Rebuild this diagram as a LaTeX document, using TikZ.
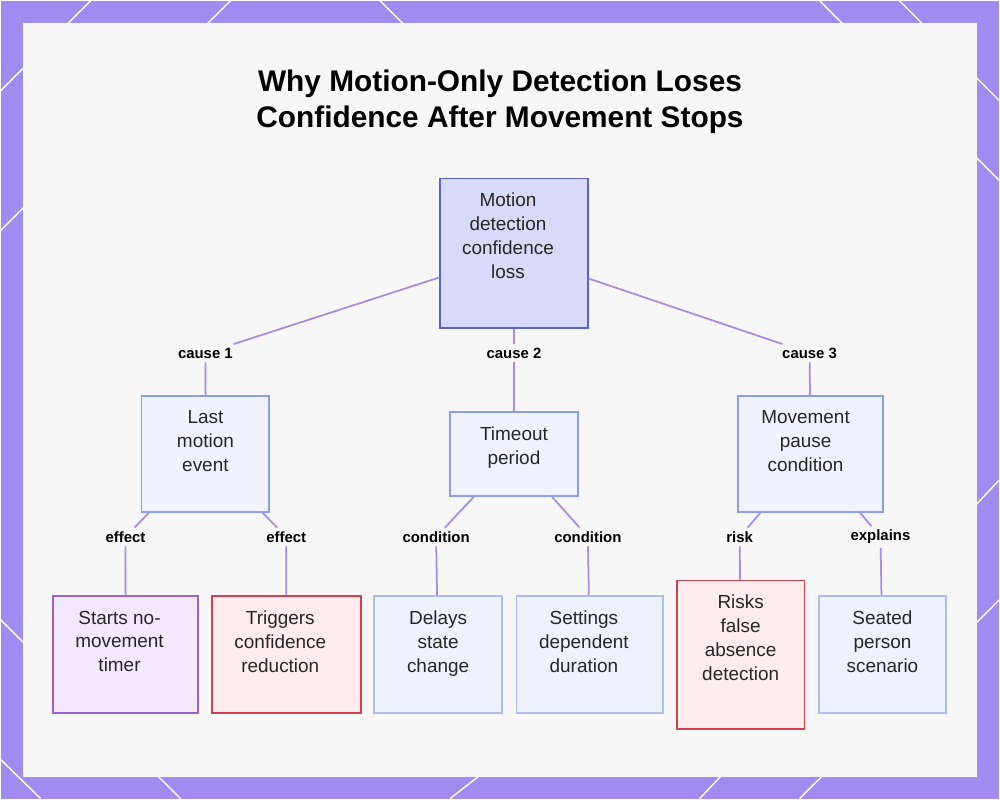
\documentclass[tikz,border=0pt]{standalone}
\usepackage{fontspec}
\setmainfont{Liberation Sans}
\begin{document}
\begin{tikzpicture}[x=0.02cm,y=-0.02cm,
  box/.style={draw, line width=1pt, inner sep=0pt},
  txt/.style={align=center, font=\fontsize{10.8}{13.6}\selectfont, text=black!85, inner sep=0pt, anchor=north},
  blue/.style={box, fill={rgb,255:red,240;green,243;blue,255}, draw={rgb,255:red,140;green,158;blue,232}},
  pale/.style={box, fill={rgb,255:red,238;green,242;blue,255}, draw={rgb,255:red,176;green,190;blue,238}},
  root/.style={box, fill={rgb,255:red,216;green,218;blue,250}, draw={rgb,255:red,90;green,100;blue,200}},
  lav/.style={box, fill={rgb,255:red,242;green,232;blue,255}, draw={rgb,255:red,160;green,96;blue,208}},
  red/.style={box, fill={rgb,255:red,255;green,236;blue,238}, draw={rgb,255:red,208;green,64;blue,80}},
  lbl/.style={font=\bfseries\fontsize{8.5}{10}\selectfont, fill=black!3, inner sep=2pt},
  con/.style={draw={rgb,255:red,168;green,140;blue,224}, line width=1pt}]
\definecolor{purp}{RGB}{160,140,240}
\fill[purp] (0,0) rectangle (1000,799);
\foreach \a/\b/\c/\d in {0/230/230/0, 380/0/430/50, 0/620/180/799, 820/0/1000/180, 1000/600/800/799, 0/90/90/0, 900/0/1000/100, 1000/480/700/799, 0/760/40/799, 450/799/500/760}
  \draw[white, line width=0.8pt] (\a,\b) -- (\c,\d);
\fill[black!3] (22,22) rectangle (978,777);
\node[font=\bfseries\fontsize{17}{20.5}\selectfont, align=center] (title) at (500,101) {Why Motion-Only Detection Loses\\Confidence After Movement Stops};
\node[root, minimum width=2.96cm, minimum height=3cm] (r) at (514,253) {};
\node[blue, minimum width=2.56cm, minimum height=2.32cm] (a) at (205,454) {};
\node[blue, minimum width=2.56cm, minimum height=1.68cm] (b) at (514,454) {};
\node[blue, minimum width=2.9cm, minimum height=2.32cm] (c) at (811,454) {};
\node[lav, minimum width=2.9cm, minimum height=2.34cm] (a1) at (125,655) {};
\node[red, minimum width=2.98cm, minimum height=2.34cm] (a2) at (286,655) {};
\node[pale, minimum width=2.56cm, minimum height=2.34cm] (b1) at (438,655) {};
\node[pale, minimum width=2.94cm, minimum height=2.34cm] (b2) at (590,655) {};
\node[red, minimum width=2.56cm, minimum height=2.98cm] (c1) at (741,655) {};
\node[pale, minimum width=2.54cm, minimum height=2.34cm] (c2) at (883,655) {};
\node[txt] (tr) at ([xshift=-0.12cm,yshift=-0.3cm]r.north) {Motion\\detection\\confidence\\loss};
\node[txt] (ta) at ([yshift=-0.3cm]a.north) {Last\\motion\\event};
\node[txt] (tb) at ([yshift=-0.3cm]b.north) {Timeout\\period};
\node[txt] (tc) at ([xshift=-0.1cm,yshift=-0.3cm]c.north) {Movement\\pause\\condition};
\node[txt] (ta1) at ([xshift=-0.12cm,yshift=-0.3cm]a1.north) {Starts no-\\movement\\timer};
\node[txt] (ta2) at ([xshift=-0.12cm,yshift=-0.3cm]a2.north) {Triggers\\confidence\\reduction};
\node[txt] (tb1) at ([yshift=-0.3cm]b1.north) {Delays\\state\\change};
\node[txt] (tb2) at ([xshift=-0.12cm,yshift=-0.3cm]b2.north) {Settings\\dependent\\duration};
\node[txt] (tc1) at ([yshift=-0.3cm]c1.north) {Risks\\false\\absence\\detection};
\node[txt] (tc2) at ([yshift=-0.3cm]c2.north) {Seated\\person\\scenario};
\node[lbl] (l1) at (205,353) {cause 1};
\node[lbl] (l2) at (514,353) {cause 2};
\node[lbl] (l3) at (810,353) {cause 3};
\node[lbl] (e1) at (125,537) {effect};
\node[lbl] (e2) at (286,537) {effect};
\node[lbl] (d1) at (436,537) {condition};
\node[lbl] (d2) at (588,537) {condition};
\node[lbl] (f1) at (740,537) {risk};
\node[lbl] (f2) at (881,537) {explains};
\draw[con] (r) -- (l1) -- (a);
\draw[con] (r) -- (l2) -- (b);
\draw[con] (r) -- (l3) -- (c);
\draw[con] (a) -- (e1) -- (a1);
\draw[con] (a) -- (e2) -- (a2);
\draw[con] (b) -- (d1) -- (b1);
\draw[con] (b) -- (d2) -- (b2);
\draw[con] (c) -- (f1) -- (c1);
\draw[con] (c) -- (f2) -- (c2);
\end{tikzpicture}
\end{document}
